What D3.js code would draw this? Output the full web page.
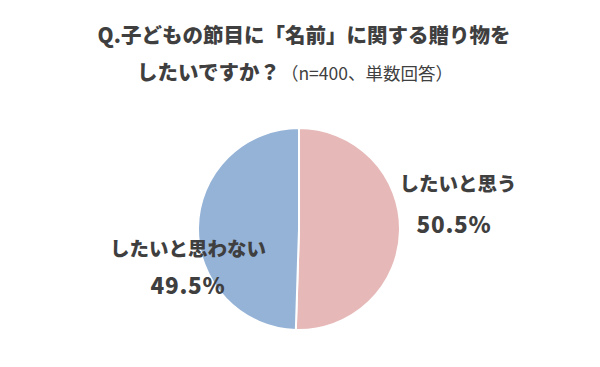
<!DOCTYPE html>
<html><head><meta charset="utf-8">
<script src="https://cdn.jsdelivr.net/npm/d3@7"></script>
<style>body{margin:0;background:#fff;} svg{display:block;}</style>
</head><body>
<svg id="c" width="600" height="367"></svg>
<script>
const categories = ["したいと思う", "したいと思わない"];
const values = [50.5, 49.5];
const valueLabels = ["50.5%", "49.5%"];
const colors = ["#E6B9B8", "#95B3D7"];
const titleLine1 = "Q.子どもの節目に「名前」に関する贈り物を";
const titleLine2a = "したいですか？";
const titleLine2b = "（n=400、単数回答）";

const svg = d3.select("#c");
const font = "'Noto Sans CJK JP', 'Noto Sans', sans-serif";
const textColor = "#3f3f3f";

const cx = 299, cy = 229, r = 101;
const pie = d3.pie().sort(null).value(d => d)(values);
const arc = d3.arc().innerRadius(0).outerRadius(r);
const g = svg.append("g").attr("transform", `translate(${cx},${cy})`);
g.selectAll("path").data(pie).join("path")
  .attr("d", arc)
  .attr("fill", (d, i) => colors[i])
  .attr("stroke", "#fff").attr("stroke-width", 2).attr("stroke-linejoin", "round");

// title
svg.append("text").attr("x", 304).attr("y", 43).attr("text-anchor", "middle")
  .attr("font-family", font).attr("font-weight", 900).attr("font-size", 20.5)
  .attr("fill", textColor).text(titleLine1);
const t2 = svg.append("text").attr("x", 295).attr("y", 80).attr("text-anchor", "middle")
  .attr("font-family", font).attr("fill", textColor);
t2.append("tspan").attr("font-weight", 900).attr("font-size", 20.5).text(titleLine2a);
t2.append("tspan").attr("font-size", 17.5).attr("dx", 1).text(titleLine2b);

// labels
const labelPos = [[458, 191, 454, 233], [188, 256, 188, 294]];
categories.forEach((c, i) => {
  const p = labelPos[i];
  svg.append("text").attr("x", p[0]).attr("y", p[1]).attr("text-anchor", "middle")
    .attr("font-family", font).attr("font-weight", 900).attr("font-size", 19.5)
    .attr("fill", textColor).text(c);
  svg.append("text").attr("x", p[2]).attr("y", p[3]).attr("text-anchor", "middle")
    .attr("font-family", font).attr("font-weight", 900).attr("font-size", 22.5)
    .attr("letter-spacing", 0.8)
    .attr("fill", textColor).text(valueLabels[i]);
});
</script>
</body></html>
